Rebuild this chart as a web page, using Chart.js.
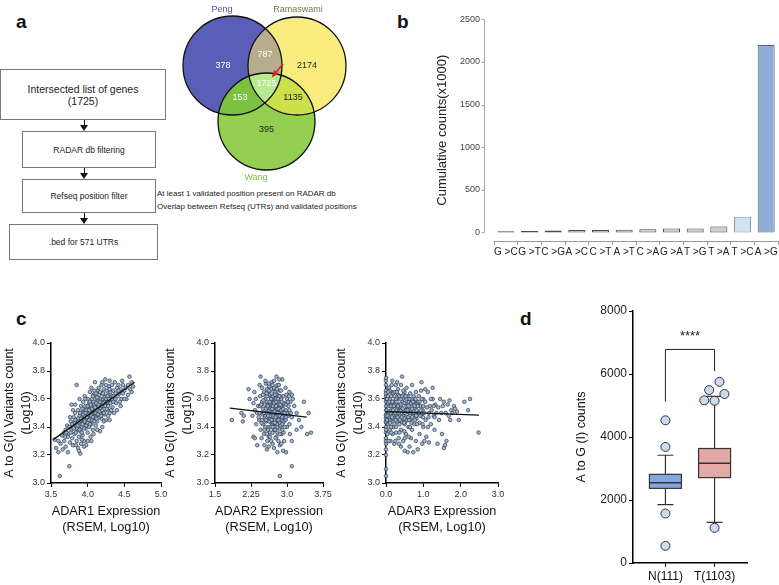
<!DOCTYPE html>
<html>
<head>
<meta charset="utf-8">
<script src="https://cdn.jsdelivr.net/npm/chart.js@4.4.1/dist/chart.umd.min.js"></script>
<style>
  body { margin: 0; background: #fff; font-family: 'Liberation Sans', Arial, sans-serif; }
  #page { position: relative; width: 779px; height: 585px; overflow: hidden; background: #fff; }
  canvas { position: absolute; }
  .letter { position: absolute; font-weight: bold; font-size: 19px; color: #111; line-height: 1; }
  .box { position: absolute; box-sizing: border-box; border: 1px solid #777; background: #fff;
         display: flex; align-items: center; justify-content: center; text-align: center; color: #222; }
  .arrow { position: absolute; width: 0; }
  .arrow .stem { position: absolute; left: -0.5px; top: 0; width: 1px; background: #111; }
  .arrow .head { position: absolute; left: -4px; width: 0; height: 0;
                 border-left: 4px solid transparent; border-right: 4px solid transparent; border-top: 6px solid #111; }
  .note { position: absolute; font-size: 8px; color: #222; white-space: nowrap; }
</style>
</head>
<body>
<div id="page">
  <div class="letter" style="left:16px;top:12px;">a</div>
  <div class="letter" style="left:397px;top:12px;">b</div>
  <div class="letter" style="left:16px;top:309px;">c</div>
  <div class="letter" style="left:520px;top:309px;">d</div>

  <!-- flowchart -->
  <div class="box" style="left:0;top:69px;width:166px;height:51px;font-size:10.5px;line-height:12px;">Intersected list of genes<br>(1725)</div>
  <div class="arrow" style="left:84px;top:120px;"><div class="stem" style="height:6px"></div><div class="head" style="top:5px"></div></div>
  <div class="box" style="left:22px;top:131px;width:134px;height:37px;font-size:8.5px;">RADAR db filtering</div>
  <div class="arrow" style="left:84px;top:168px;"><div class="stem" style="height:6px"></div><div class="head" style="top:5px"></div></div>
  <div class="box" style="left:22px;top:179px;width:134px;height:34px;font-size:8.5px;">Refseq position filter</div>
  <div class="arrow" style="left:84px;top:213px;"><div class="stem" style="height:6px"></div><div class="head" style="top:5px"></div></div>
  <div class="box" style="left:9px;top:224px;width:149px;height:36px;font-size:8.5px;">.bed for 571 UTRs</div>

  <div class="note" style="left:157px;top:189px;">At least 1 validated position present on RADAR db</div>
  <div class="note" style="left:157px;top:202px;">Overlap between Refseq (UTRs) and validated positions</div>

  <canvas id="venn" width="190" height="190" style="left:170px;top:0;"></canvas>
  <canvas id="bars" width="399" height="262" style="left:380px;top:0;"></canvas>
  <canvas id="adar1" width="175" height="212" style="left:0;top:328px;"></canvas>
  <canvas id="adar2" width="177" height="212" style="left:158px;top:328px;"></canvas>
  <canvas id="adar3" width="180" height="212" style="left:330px;top:328px;"></canvas>
  <canvas id="box" width="239" height="293" style="left:540px;top:292px;"></canvas>
</div>

<script>
// ---- data: venn (panel a) ----
const vennSets = ['Peng', 'Ramaswami', 'Wang'];
const vennRegions = ['Peng', 'Peng+Ramaswami', 'Ramaswami', 'all', 'Peng+Wang', 'Ramaswami+Wang', 'Wang'];
const vennCounts = [378, 787, 2174, 1725, 153, 1135, 395];

// ---- data: substitution counts (panel b) ----
const mutationTypes = ['G >C', 'G >T', 'C >G', 'A >C', 'C >T', 'A >T', 'C >A', 'G >A', 'T >G', 'T >A', 'T >C', 'A >G'];
const mutationCounts = [15, 18, 22, 30, 30, 33, 37, 48, 48, 70, 185, 2200];
const countTicks = [0, 500, 1000, 1500, 2000, 2500];

// ---- data: ADAR expression vs A-to-I variants (panel c) ----
const variantTicks = [3.0, 3.2, 3.4, 3.6, 3.8, 4.0];
const adar1Ticks = [3.5, 4.0, 4.5, 5.0];
const adar2Ticks = [1.5, 2.25, 3.0, 3.75];
const adar3Ticks = [0, 1, 2, 3];
const adar1Fit = [[3.53, 3.31], [4.64, 3.72]];
const adar2Fit = [[1.81, 3.535], [3.41, 3.47]];
const adar3Fit = [[0, 3.51], [2.49, 3.485]];

const adar1Points = [
  [3.55,3.31],[3.57,3.25],[3.6,3.22],[3.62,3.05],[3.63,3.28],[3.65,3.34],[3.66,3.24],[3.68,3.3],[3.7,3.38],[3.7,3.26],
  [3.72,3.41],[3.73,3.22],[3.75,3.12],[3.74,3.35],[3.76,3.29],[3.68,3.36],[3.6,3.3],[3.78,3.56],[3.77,3.44],[3.79,3.32],
  [3.8,3.4],[3.8,3.27],[3.81,3.47],[3.82,3.35],[3.83,3.5],[3.84,3.42],[3.85,3.7],[3.85,3.3],[3.86,3.45],[3.86,3.38],
  [3.87,3.25],[3.87,3.52],[3.88,3.41],[3.88,3.33],[3.89,3.48],[3.89,3.6],[3.9,3.21],[3.9,3.37],[3.9,3.44],[3.91,3.55],
  [3.91,3.28],[3.92,3.5],[3.92,3.4],[3.93,3.46],[3.93,3.34],[3.94,3.58],[3.94,3.43],[3.95,3.52],[3.95,3.3],[3.96,3.62],
  [3.96,3.48],[3.97,3.39],[3.97,3.55],[3.98,3.45],[3.98,3.27],[3.99,3.5],[3.99,3.42],[4.0,3.6],[4.0,3.47],[4.0,3.36],
  [4.01,3.53],[4.01,3.44],[4.02,3.57],[4.02,3.4],[4.03,3.5],[4.03,3.65],[4.04,3.46],[4.04,3.33],[4.05,3.55],[4.05,3.42],
  [4.06,3.6],[4.06,3.49],[4.07,3.52],[4.07,3.38],[4.08,3.63],[4.08,3.45],[4.09,3.56],[4.09,3.5],[4.1,3.72],[4.1,3.47],
  [4.1,3.58],[4.11,3.41],[4.11,3.54],[4.12,3.61],[4.12,3.5],[4.13,3.56],[4.13,3.44],[4.14,3.66],[4.14,3.52],[4.15,3.59],
  [4.15,3.48],[4.16,3.63],[4.16,3.55],[4.17,3.37],[4.17,3.5],[4.18,3.6],[4.18,3.53],[4.19,3.7],[4.19,3.46],[4.2,3.57],
  [4.2,3.64],[4.21,3.51],[4.21,3.6],[4.22,3.55],[4.22,3.67],[4.23,3.49],[4.23,3.58],[4.24,3.62],[4.24,3.74],[4.25,3.56],
  [4.25,3.45],[4.26,3.6],[4.26,3.66],[4.27,3.52],[4.28,3.63],[4.28,3.57],[4.29,3.69],[4.3,3.6],[4.3,3.5],[4.31,3.65],
  [4.32,3.58],[4.33,3.7],[4.33,3.62],[4.34,3.54],[4.35,3.66],[4.36,3.6],[4.37,3.72],[4.38,3.64],[4.39,3.57],[4.4,3.68],
  [4.41,3.62],[4.42,3.7],[4.43,3.64],[4.45,3.67],[4.46,3.6],[4.48,3.7],[4.5,3.66],[4.52,3.68],[4.53,3.6],[4.55,3.7],
  [4.57,3.76],[4.58,3.67],[4.6,3.72],[4.62,3.69],[4.6,3.65],[4.55,3.63],[3.84,3.27],[3.88,3.23],[3.95,3.26],[3.92,3.31],
  [4.0,3.3],[4.05,3.3],[4.08,3.35],[4.13,3.38],[4.2,3.4],[4.22,3.44],[4.3,3.45],[4.36,3.5],[4.4,3.52],[4.45,3.55],
  [3.95,3.45],[3.98,3.52],[4.02,3.48],[4.04,3.52],[4.06,3.45],[4.08,3.53],[4.1,3.51],[4.12,3.46],[4.14,3.55],[4.16,3.47],
  [4.18,3.57],[4.03,3.58],[3.97,3.6],[4.0,3.55],[3.93,3.53],[3.9,3.5],[3.87,3.46],[3.85,3.39],[3.82,3.43],[3.78,3.38],
  [3.76,3.47],[3.8,3.52],[3.83,3.56],[4.11,3.64],[4.15,3.68],[4.25,3.7],[4.2,3.72],[4.05,3.68],[4.27,3.58],[4.3,3.67],
  [4.35,3.62],[4.32,3.52],[4.28,3.48],[4.38,3.6],[4.44,3.58],[4.48,3.64],[4.5,3.6],[4.42,3.66],[4.47,3.73],[4.3,3.73],
  [3.86,3.41],[3.88,3.44],[3.89,3.38],[3.91,3.46],[3.92,3.36],[3.93,3.42],[3.94,3.49],[3.95,3.39],[3.96,3.44],[3.97,3.5],
  [3.98,3.41],[3.99,3.47],[4.0,3.43],[4.01,3.49],[4.02,3.45],[4.03,3.42],[4.04,3.56],[4.05,3.48],[4.06,3.53],[4.07,3.47],
  [4.08,3.58],[4.09,3.44],[4.1,3.54],[4.11,3.5],[4.12,3.57],[4.13,3.52],[4.14,3.49],[4.15,3.56],[4.16,3.51],[4.17,3.58],
  [4.18,3.48],[4.19,3.55],[4.2,3.52],[4.21,3.57],[4.22,3.5],[4.23,3.61],[4.24,3.55],[4.25,3.6],[4.26,3.53],[4.27,3.62],
  [4.28,3.55],[4.29,3.6],[4.31,3.57],[4.33,3.6],[4.35,3.58],[3.84,3.36],[3.83,3.45],[3.81,3.39],[3.79,3.42],[3.77,3.36],
  [3.75,3.4],[3.73,3.33],[3.71,3.36],[3.69,3.33],[4.07,3.62],[4.09,3.66],[4.13,3.61],[4.17,3.65],[4.21,3.64],[4.02,3.52]
];

const adar2Points = [
  [1.85,3.45],[2.08,3.44],[2.1,3.48],[2.05,3.5],[2.2,3.67],[2.45,3.76],[2.85,3.05],[3.1,3.12],[3.5,3.36],[3.42,3.35],
  [3.45,3.5],[3.3,3.4],[3.35,3.58],[2.22,3.6],[2.3,3.33],[2.33,3.32],[2.38,3.27],[2.92,3.23],[2.98,3.22],[2.8,3.22],
  [3.05,3.65],[3.1,3.63],[3.15,3.55],[3.2,3.5],[3.25,3.45],[3.2,3.38],[3.1,3.3],
  [2.4,3.55],[2.42,3.45],[2.44,3.62],[2.45,3.38],[2.46,3.5],[2.48,3.68],[2.48,3.58],[2.5,3.42],[2.5,3.53],[2.52,3.65],
  [2.52,3.35],[2.54,3.48],[2.55,3.6],[2.56,3.71],[2.57,3.44],[2.58,3.55],[2.59,3.3],[2.6,3.5],[2.6,3.64],[2.61,3.4],
  [2.62,3.57],[2.63,3.69],[2.64,3.46],[2.65,3.52],[2.65,3.36],[2.66,3.61],[2.67,3.43],[2.68,3.55],[2.68,3.72],[2.69,3.49],
  [2.7,3.58],[2.7,3.28],[2.71,3.45],[2.72,3.62],[2.72,3.52],[2.73,3.38],[2.74,3.67],[2.75,3.5],[2.75,3.56],[2.76,3.42],
  [2.77,3.6],[2.78,3.33],[2.78,3.47],[2.79,3.54],[2.8,3.7],[2.8,3.63],[2.81,3.44],[2.82,3.5],[2.83,3.58],[2.84,3.39],
  [2.85,3.27],[2.85,3.66],[2.86,3.52],[2.87,3.46],[2.88,3.6],[2.89,3.35],[2.9,3.55],[2.9,3.74],[2.91,3.43],[2.92,3.62],
  [2.93,3.5],[2.94,3.3],[2.95,3.57],[2.96,3.45],[2.97,3.68],[2.98,3.52],[3.0,3.4],[3.0,3.6],[3.02,3.48],[3.03,3.55],
  [3.05,3.42],[3.07,3.58],[3.08,3.5],[3.1,3.47],[3.12,3.6],[2.38,3.5],[2.35,3.6],[2.36,3.42],[2.33,3.52],[2.3,3.57],
  [2.28,3.48],[2.32,3.65],[2.43,3.7],[2.47,3.32],[2.53,3.27],[2.58,3.24],[2.62,3.26],[2.67,3.3],[2.73,3.25],[2.76,3.32],
  [2.82,3.3],[2.88,3.28],[2.93,3.36],[2.55,3.4],[2.6,3.45],[2.63,3.52],[2.66,3.48],[2.69,3.6],[2.71,3.55],[2.74,3.45],
  [2.77,3.52],[2.79,3.48],[2.82,3.56],[2.84,3.5],[2.86,3.62],[2.88,3.45],[2.91,3.5],[2.94,3.47],[2.97,3.56],[2.99,3.63],
  [2.64,3.63],[2.67,3.67],[2.7,3.7],[2.73,3.73],[2.76,3.65],[2.59,3.58],[2.56,3.53],[2.53,3.46],[2.51,3.59],[2.49,3.49],
  [2.47,3.43],[2.44,3.55],[2.41,3.47],[2.62,3.33],[2.66,3.4],[2.7,3.36],[2.75,3.38],[2.8,3.4],[2.85,3.43],[2.9,3.38],
  [2.95,3.4],[3.0,3.5],[3.04,3.62],[3.06,3.35],[2.58,3.67],[2.55,3.73],[2.84,3.74],[2.78,3.76],[2.62,3.71],[2.7,3.42],
  [2.72,3.48],[2.68,3.51],[2.74,3.58],[2.8,3.53],[2.83,3.46],[2.87,3.55],[2.92,3.57],[2.57,3.5],[2.61,3.54],[2.65,3.57],
  [2.78,3.63],
  [2.52,3.5],[2.54,3.56],[2.56,3.45],[2.58,3.62],[2.6,3.55],[2.61,3.48],[2.63,3.44],[2.64,3.58],[2.66,3.53],[2.67,3.6],
  [2.68,3.45],[2.69,3.53],[2.7,3.5],[2.71,3.62],[2.72,3.43],[2.73,3.57],[2.74,3.51],[2.75,3.63],[2.76,3.47],[2.77,3.55],
  [2.78,3.58],[2.79,3.42],[2.8,3.5],[2.81,3.6],[2.82,3.45],[2.83,3.53],[2.84,3.62],[2.85,3.48],[2.86,3.56],[2.87,3.41],
  [2.88,3.52],[2.89,3.58],[2.9,3.47],[2.92,3.53],[2.93,3.44],[2.95,3.5],[2.97,3.45],[2.6,3.38],[2.65,3.33],[2.7,3.4],
  [2.75,3.43],[2.8,3.36],[2.85,3.35],[2.9,3.42],[2.62,3.66],[2.68,3.64],[2.73,3.68],[2.79,3.67],[2.83,3.7],[2.88,3.66],
  [2.57,3.64],[2.5,3.63],[2.46,3.56],[2.43,3.5],[2.48,3.45],[2.53,3.38],[2.58,3.35],[2.98,3.47],[3.02,3.58],[3.05,3.52]
];

const adar3Points = [
  [0,3.05],[0,3.1],[0,3.2],[0,3.24],[0,3.28],[0,3.32],[0,3.36],[0,3.4],[0,3.43],[0,3.46],[0,3.49],[0,3.52],[0,3.55],
  [0,3.58],[0,3.62],[0,3.66],[0,3.7],[0,3.73],[0,3.75],[0,3.38],[0,3.3],[0,3.48],[0,3.6],[0,3.64],[0,3.44],
  [0.05,3.5],[0.05,3.62],[0.06,3.42],[0.08,3.55],[0.08,3.68],[0.1,3.47],[0.1,3.38],[0.12,3.58],[0.12,3.3],[0.14,3.52],
  [0.15,3.65],[0.15,3.44],[0.17,3.73],[0.18,3.5],[0.2,3.58],[0.2,3.4],[0.22,3.62],[0.22,3.28],[0.24,3.47],[0.25,3.55],
  [0.26,3.7],[0.27,3.36],[0.28,3.52],[0.3,3.44],[0.3,3.6],[0.32,3.67],[0.33,3.5],[0.34,3.32],[0.35,3.56],[0.36,3.42],
  [0.38,3.62],[0.38,3.48],[0.4,3.7],[0.4,3.38],[0.42,3.54],[0.43,3.76],[0.44,3.45],[0.45,3.6],[0.46,3.3],[0.48,3.5],
  [0.5,3.65],[0.5,3.42],[0.52,3.57],[0.53,3.35],[0.55,3.47],[0.55,3.68],[0.57,3.53],[0.58,3.22],[0.6,3.6],[0.6,3.4],
  [0.62,3.5],[0.63,3.26],[0.65,3.64],[0.66,3.45],[0.68,3.55],[0.7,3.7],[0.7,3.38],[0.72,3.48],[0.73,3.22],[0.75,3.58],
  [0.76,3.42],[0.78,3.53],[0.8,3.65],[0.8,3.3],[0.82,3.46],[0.84,3.57],[0.85,3.24],[0.86,3.5],[0.88,3.62],[0.9,3.43],
  [0.9,3.35],[0.92,3.55],[0.94,3.66],[0.95,3.48],[0.97,3.28],[0.98,3.52],[1.0,3.6],[1.0,3.4],[1.02,3.5],[1.05,3.58],
  [1.06,3.45],[1.08,3.33],[1.1,3.54],[1.12,3.65],[1.14,3.47],[1.15,3.29],[1.18,3.55],[1.2,3.42],[1.22,3.52],[1.25,3.6],
  [1.28,3.48],[1.3,3.38],[1.32,3.56],[1.35,3.5],[1.38,3.28],[1.4,3.54],[1.42,3.45],[1.45,3.6],[1.48,3.5],[1.5,3.35],
  [1.52,3.55],[1.55,3.58],[1.55,3.25],[1.58,3.27],[1.6,3.5],[1.62,3.3],[1.65,3.56],[1.68,3.48],[1.7,3.59],[1.72,3.45],
  [1.75,3.52],[1.78,3.5],[1.82,3.55],[1.85,3.53],[1.9,3.51],[1.95,3.45],[2.1,3.58],[2.25,3.6],[2.2,3.52],[2.48,3.36],
  [1.25,3.68],[1.05,3.67],[0.95,3.72],[0.3,3.72],[0.15,3.7],[0.25,3.3],[0.4,3.26],[0.5,3.23],[0.35,3.28],[0.45,3.48],
  [0.52,3.44],[0.58,3.62],[0.62,3.58],[0.66,3.52],[0.7,3.47],[0.74,3.62],[0.78,3.45],[0.82,3.52],[0.86,3.58],[0.92,3.48],
  [0.06,3.57],[0.09,3.45],[0.11,3.6],[0.13,3.4],[0.16,3.55],[0.19,3.64],[0.21,3.5],[0.23,3.42],[0.27,3.6],[0.29,3.48],
  [0.31,3.54],[0.37,3.52],[0.41,3.44],[0.44,3.58],[0.47,3.63],[0.49,3.37],[0.54,3.52],[0.56,3.6],[0.59,3.47],[0.64,3.4],
  [0.67,3.32],[0.69,3.6],[0.04,3.35],[0.07,3.3],[0.1,3.66],[0.03,3.45],[0.12,3.5],[0.18,3.35],[0.2,3.46],[0.24,3.56],
  [0.33,3.63],[0.39,3.56],[1.12,3.4],[1.2,3.6],[1.28,3.55],[1.15,3.5],[1.3,3.47],[1.0,3.55],[0.98,3.42],[1.03,3.3],
  [0.02,3.52],[0.03,3.6],[0.04,3.48],[0.06,3.65],[0.07,3.51],[0.09,3.58],[0.11,3.43],[0.13,3.55],[0.14,3.62],[0.16,3.47],
  [0.17,3.58],[0.19,3.52],[0.21,3.55],[0.23,3.65],[0.25,3.5],[0.26,3.45],[0.28,3.58],[0.29,3.65],[0.31,3.47],[0.32,3.55],
  [0.34,3.5],[0.35,3.62],[0.37,3.45],[0.39,3.6],[0.4,3.52],[0.42,3.47],[0.43,3.62],[0.45,3.53],[0.46,3.66],[0.48,3.43],
  [0.49,3.57],[0.51,3.5],[0.53,3.62],[0.55,3.55],[0.57,3.45],[0.58,3.52],[0.6,3.55],[0.62,3.45],[0.63,3.6],[0.65,3.5],
  [0.67,3.57],[0.68,3.43],[0.7,3.53],[0.72,3.58],[0.74,3.5],[0.77,3.55],[0.79,3.6],[0.81,3.48],[0.83,3.42],[0.85,3.55],
  [0.88,3.5],[0.9,3.58],[0.93,3.52],[0.96,3.6],[0.99,3.47],[0.14,3.36],[0.27,3.4],[0.36,3.36],[0.5,3.32],[0.61,3.33]
];

// ---- data: box plot (panel d) ----
const groupLabels = ['N(111)', 'T(1103)'];
const boxQ1 = [2370, 2710];
const boxMedian = [2550, 3165];
const boxQ3 = [2815, 3635];
const whiskerLow = [1855, 1290];
const whiskerHigh = [3420, 5290];
const outlierX = [1, 1, 1, 1, 2.1, 1.89, 2.2, 1.79, 2.0, 2.0];
const outlierY = [4530, 3685, 1570, 545, 5750, 5490, 5365, 5165, 5150, 1115];
const countAxisTicks = [0, 2000, 4000, 6000, 8000];
const bracket = { top: 6780, leftEnd: 5120, rightEnd: 6090, label: '****', labelAt: 7290 };

// ---- shared look ----
const FONT = "'Liberation Sans', Arial, sans-serif";
Chart.defaults.font.family = FONT;
Chart.defaults.color = '#222';
Chart.defaults.animation = false;
Chart.defaults.responsive = false;
Chart.defaults.devicePixelRatio = 1;
Chart.defaults.plugins.legend.display = false;
Chart.defaults.plugins.tooltip.enabled = false;

// ─── VENN (panel a) ─────────────────────────────────────────────
// circle layout in canvas units: [cx, cy, r]
const vennCircles = [[62.5, 65.5, 49.5], [127, 66, 49], [96.5, 121.5, 48.5]];
const vennFills = ['#5a5eb6', '#f8ec7f', '#94cf52'];
const vennLabelPos = [[52, 10], [128, 10], [86, 178]];
const vennLabelColors = ['#4650aa', '#7b7349', '#79c143'];
const vennCountPos = [[53, 66], [95, 55], [137, 66], [96.5, 84], [70, 98], [123, 98], [96.5, 130]];
const vennCountColors = ['#fff', '#fff', '#222', '#fff', '#fff', '#222', '#222'];

const vennPlugin = {
  id: 'venn',
  afterDatasetsDraw(chart) {
    const { ctx, scales: { x, y } } = chart;
    const px = v => x.getPixelForValue(v);
    const py = v => y.getPixelForValue(v);
    const pr = r => x.getPixelForValue(r) - x.getPixelForValue(0);
    const path = c => { ctx.beginPath(); ctx.arc(px(c[0]), py(c[1]), pr(c[2]), 0, Math.PI * 2); };
    const [P, R, W] = vennCircles;
    ctx.save();
    vennCircles.forEach((c, i) => { path(c); ctx.fillStyle = vennFills[i]; ctx.fill(); });
    const overlap = (clips, fillC, color) => {
      ctx.save();
      clips.forEach(c => { path(c); ctx.clip(); });
      path(fillC); ctx.fillStyle = color; ctx.fill();
      ctx.restore();
    };
    overlap([P], R, '#b5ad8c');
    overlap([P], W, '#7cc142');
    overlap([R], W, '#cde04a');
    overlap([P, R], W, '#b7e98f');
    ctx.lineWidth = 1.3; ctx.strokeStyle = '#111';
    vennCircles.forEach(c => { path(c); ctx.stroke(); });

    ctx.textAlign = 'center'; ctx.textBaseline = 'middle';
    ctx.font = '9px ' + FONT;
    vennCounts.forEach((n, i) => {
      ctx.fillStyle = vennCountColors[i];
      ctx.fillText(String(n), px(vennCountPos[i][0]), py(vennCountPos[i][1]));
    });
    vennSets.forEach((s, i) => {
      ctx.fillStyle = vennLabelColors[i];
      ctx.fillText(s, px(vennLabelPos[i][0]), py(vennLabelPos[i][1]));
    });
    // red arrow toward the shared set
    const ax0 = px(113), ay0 = py(64), ax1 = px(103), ay1 = py(76);
    ctx.strokeStyle = '#d3262a'; ctx.fillStyle = '#d3262a'; ctx.lineWidth = 1.4;
    ctx.beginPath(); ctx.moveTo(ax0, ay0); ctx.lineTo(ax1, ay1); ctx.stroke();
    const ang = Math.atan2(ay1 - ay0, ax1 - ax0);
    ctx.beginPath();
    ctx.moveTo(ax1 + Math.cos(ang) * 2, ay1 + Math.sin(ang) * 2);
    ctx.lineTo(ax1 - Math.cos(ang - 0.5) * 6, ay1 - Math.sin(ang - 0.5) * 6);
    ctx.lineTo(ax1 - Math.cos(ang + 0.5) * 6, ay1 - Math.sin(ang + 0.5) * 6);
    ctx.closePath(); ctx.fill();
    ctx.restore();
  }
};

new Chart(document.getElementById('venn'), {
  type: 'scatter',
  data: { datasets: [{ data: [] }] },
  options: {
    layout: { padding: 0 },
    scales: {
      x: { type: 'linear', display: false, min: 0, max: 190 },
      y: { type: 'linear', display: false, min: 0, max: 190, reverse: true }
    }
  },
  plugins: [vennPlugin]
});

// ─── BAR CHART (panel b) ────────────────────────────────────────
const barFills = mutationTypes.map((_, i) => i === 11 ? '#8eaed7' : i === 10 ? '#d3e3f6' : '#cfcfcf');
const barEdges = mutationTypes.map((_, i) => i === 11 ? '#4c6585' : i === 10 ? '#8796a8' : '#4a4a4a');

const offsetYAxis = {
  id: 'offsetYAxis',
  afterDraw(chart) {
    const { ctx, chartArea, scales: { y } } = chart;
    const x0 = Math.round(chartArea.left - 10) + 0.5;
    ctx.save();
    ctx.strokeStyle = '#a8a8a8'; ctx.lineWidth = 1;
    ctx.beginPath();
    ctx.moveTo(x0, y.getPixelForValue(countTicks[countTicks.length - 1]));
    ctx.lineTo(x0, y.getPixelForValue(0));
    countTicks.forEach(v => {
      const p = Math.round(y.getPixelForValue(v)) + 0.5;
      ctx.moveTo(x0 - 3, p); ctx.lineTo(x0, p);
    });
    ctx.stroke();
    ctx.restore();
  }
};

new Chart(document.getElementById('bars'), {
  type: 'bar',
  data: {
    labels: mutationTypes,
    datasets: [{
      data: mutationCounts,
      backgroundColor: barFills,
      borderColor: barEdges,
      borderWidth: 1,
      borderSkipped: false,
      barPercentage: 0.72,
      categoryPercentage: 1
    }]
  },
  options: {
    layout: { padding: { top: 6, right: 1, left: 0, bottom: 0 } },
    scales: {
      x: {
        grid: { drawOnChartArea: false, drawTicks: true, tickLength: 4, color: '#9a9a9a', offset: true },
        border: { color: '#9a9a9a', width: 1 },
        ticks: { font: { size: 10 }, color: '#222', maxRotation: 0, autoSkip: false, padding: 1 },
        afterFit(s) { s.height = 21; }
      },
      y: {
        min: -100, max: 2500,
        afterBuildTicks(s) { s.ticks = countTicks.map(v => ({ value: v })); },
        grid: { display: false, drawTicks: false },
        border: { display: false },
        ticks: { font: { size: 9 }, color: '#444', padding: 14, callback: v => String(v) },
        title: { display: true, text: 'Cumulative counts(x1000)', font: { size: 13 }, color: '#222', padding: { top: 55, bottom: 0 } },
        afterFit(s) { s.width = 114; }
      }
    }
  },
  plugins: [offsetYAxis]
});

// ─── SCATTER PANELS (panel c) ───────────────────────────────────
function fmtTick(v) {
  return Number.isInteger(Math.round(v * 1000) / 100) ? v.toFixed(1) : String(v);
}

function scatterPanel(id, points, fit, xTicks, xTitle, yWidth, titleTop, padRight) {
  return new Chart(document.getElementById(id), {
    type: 'scatter',
    data: {
      datasets: [
        {
          data: fit.map(p => ({ x: p[0], y: p[1] })),
          showLine: true, borderColor: '#111', borderWidth: 1.3, pointRadius: 0, clip: false
        },
        {
          data: points.map(p => ({ x: p[0], y: p[1] })),
          pointRadius: 1.8,
          pointBackgroundColor: 'rgba(160,180,204,0.95)',
          pointBorderColor: '#2b3a4f',
          pointBorderWidth: 0.7,
          clip: false
        }
      ]
    },
    options: {
      layout: { padding: { top: 15, right: padRight, left: 0, bottom: 0 } },
      scales: {
        x: {
          type: 'linear',
          min: xTicks[0], max: xTicks[xTicks.length - 1],
          afterBuildTicks(s) { s.ticks = xTicks.map(v => ({ value: v })); },
          grid: { drawOnChartArea: false, drawTicks: true, tickLength: 4, color: '#000', lineWidth: 1 },
          border: { color: '#000', width: 1.5 },
          ticks: { font: { size: 9 }, color: '#333', padding: 2, maxRotation: 0, callback: v => fmtTick(v) },
          title: { display: true, text: [xTitle, '(RSEM, Log10)'], font: { size: 12.7, lineHeight: '16px' }, color: '#111', padding: { top: 0, bottom: 5 } },
          afterFit(s) { s.height = 57; }
        },
        y: {
          type: 'linear',
          min: 3.0, max: 4.0,
          afterBuildTicks(s) { s.ticks = variantTicks.map(v => ({ value: v })); },
          grid: { drawOnChartArea: false, drawTicks: true, tickLength: 4, color: '#000', lineWidth: 1 },
          border: { color: '#000', width: 1.5 },
          ticks: { font: { size: 9 }, color: '#333', padding: 2, callback: v => v.toFixed(1) },
          title: { display: true, text: ['A to G(I) Variants count', '(Log10)'], font: { size: 12.5, lineHeight: '17px' }, color: '#111', padding: { top: titleTop, bottom: 0 } },
          afterFit(s) { s.width = yWidth; }
        }
      }
    }
  });
}

scatterPanel('adar1', adar1Points, adar1Fit, adar1Ticks, 'ADAR1 Expression', 51, 1.5, 14);
scatterPanel('adar2', adar2Points, adar2Fit, adar2Ticks, 'ADAR2 Expression', 57, 4.5, 12);
scatterPanel('adar3', adar3Points, adar3Fit, adar3Ticks, 'ADAR3 Expression', 56, 3.5, 12);

// ─── BOX PLOT (panel d) ─────────────────────────────────────────
const boxFills = ['#84a8d9', '#e3a9a7'];
const boxPlugin = {
  id: 'boxes',
  beforeDatasetsDraw(chart) {
    const { ctx, scales: { x, y } } = chart;
    ctx.save();
    ctx.strokeStyle = '#333'; ctx.lineWidth = 1.2;
    groupLabels.forEach((_, i) => {
      const cx = x.getPixelForValue(i + 1);
      const half = 16, cap = 8;
      ctx.beginPath();
      ctx.moveTo(cx, y.getPixelForValue(boxQ3[i])); ctx.lineTo(cx, y.getPixelForValue(whiskerHigh[i]));
      ctx.moveTo(cx, y.getPixelForValue(boxQ1[i])); ctx.lineTo(cx, y.getPixelForValue(whiskerLow[i]));
      ctx.moveTo(cx - cap, y.getPixelForValue(whiskerHigh[i])); ctx.lineTo(cx + cap, y.getPixelForValue(whiskerHigh[i]));
      ctx.moveTo(cx - cap, y.getPixelForValue(whiskerLow[i])); ctx.lineTo(cx + cap, y.getPixelForValue(whiskerLow[i]));
      ctx.stroke();
      const top = y.getPixelForValue(boxQ3[i]), bot = y.getPixelForValue(boxQ1[i]);
      ctx.fillStyle = boxFills[i];
      ctx.fillRect(cx - half, top, half * 2, bot - top);
      ctx.strokeRect(cx - half, top, half * 2, bot - top);
      const m = y.getPixelForValue(boxMedian[i]);
      ctx.lineWidth = 1.6;
      ctx.beginPath(); ctx.moveTo(cx - half, m); ctx.lineTo(cx + half, m); ctx.stroke();
      ctx.lineWidth = 1.2;
    });
    // significance bracket
    const xl = x.getPixelForValue(1), xr = x.getPixelForValue(2), yt = y.getPixelForValue(bracket.top);
    ctx.lineWidth = 1; ctx.strokeStyle = '#222';
    ctx.beginPath();
    ctx.moveTo(xl, y.getPixelForValue(bracket.leftEnd)); ctx.lineTo(xl, yt);
    ctx.lineTo(xr, yt); ctx.lineTo(xr, y.getPixelForValue(bracket.rightEnd));
    ctx.stroke();
    ctx.fillStyle = '#222'; ctx.font = '13px ' + FONT;
    ctx.textAlign = 'center'; ctx.textBaseline = 'middle';
    ctx.fillText(bracket.label, (xl + xr) / 2, y.getPixelForValue(bracket.labelAt) + 3);
    ctx.restore();
  }
};

new Chart(document.getElementById('box'), {
  type: 'scatter',
  data: {
    datasets: [{
      data: outlierY.map((v, i) => ({ x: outlierX[i], y: v })),
      pointRadius: 4.5,
      pointBackgroundColor: '#c9dcf1',
      pointBorderColor: '#333',
      pointBorderWidth: 1,
      clip: false
    }]
  },
  options: {
    layout: { padding: { top: 19, right: 32, left: 0, bottom: 0 } },
    scales: {
      x: {
        type: 'linear', min: 0.34, max: 2.66,
        afterBuildTicks(s) { s.ticks = groupLabels.map((_, i) => ({ value: i + 1 })); },
        grid: { drawOnChartArea: false, drawTicks: true, tickLength: 4, color: '#000' },
        border: { color: '#000', width: 1.5 },
        ticks: { font: { size: 12 }, color: '#111', padding: 2, maxRotation: 0, callback: v => groupLabels[v - 1] },
        afterFit(s) { s.height = 22; }
      },
      y: {
        min: 0, max: 8000,
        afterBuildTicks(s) { s.ticks = countAxisTicks.map(v => ({ value: v })); },
        grid: { drawOnChartArea: false, drawTicks: true, tickLength: 4, color: '#000' },
        border: { color: '#000', width: 1.5 },
        ticks: { font: { size: 12 }, color: '#222', padding: 2, callback: v => String(v) },
        title: { display: true, text: 'A to G (I) counts', font: { size: 12.5, lineHeight: '15px' }, color: '#111', padding: { top: 34.5, bottom: 0 } },
        afterFit(s) { s.width = 93; }
      }
    }
  },
  plugins: [boxPlugin]
});
</script>
</body>
</html>
